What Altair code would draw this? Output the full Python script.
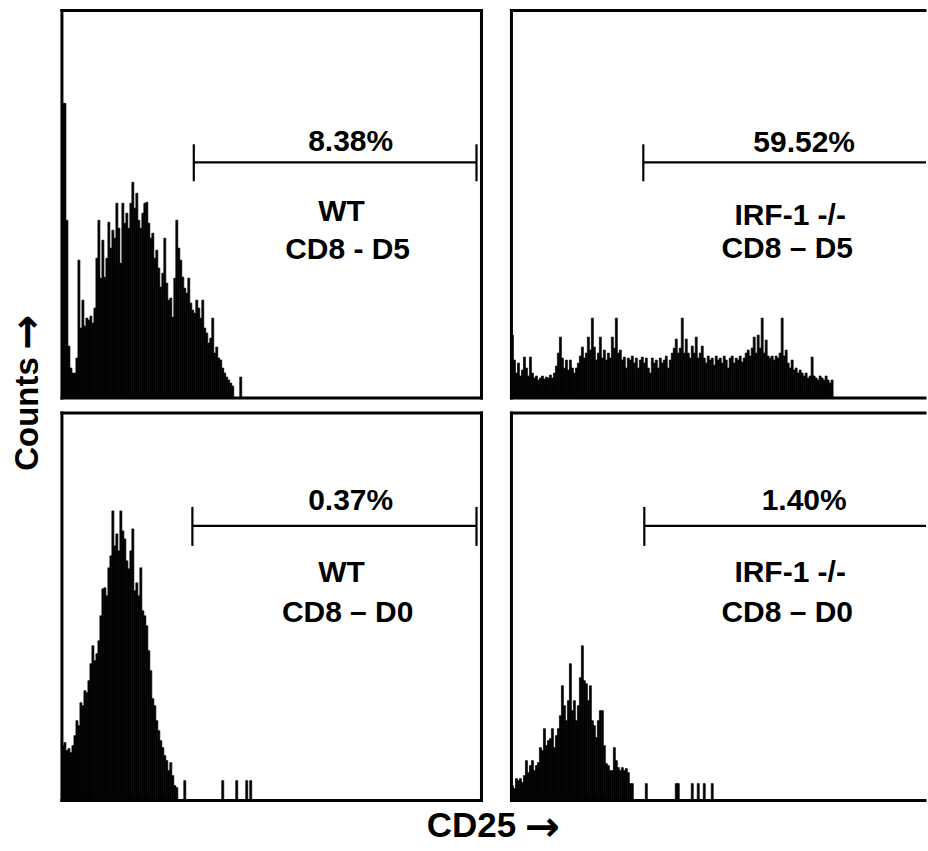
import altair as alt
import pandas as pd

# ---------------- data (heights per 2-px channel bin) -------------
tl_counts = [295, 295, 178, 52, 30, 25, 25, 40, 138, 70, 98, 72, 80, 78, 82, 75, 90, 140, 178, 120,
             158, 121, 140, 176, 150, 168, 160, 195, 170, 135, 195, 175, 185, 170, 195, 216, 190, 205,
             178, 170, 185, 195, 196, 175, 160, 165, 140, 148, 130, 111, 125, 160, 115, 98, 100, 81,
             120, 178, 150, 138, 121, 110, 105, 120, 95, 88, 85, 98, 90, 80, 98, 70, 65, 55, 60, 80,
             45, 51, 40, 38, 30, 25, 21, 18, 15, 12, 0, 0, 0, 21]

tr_counts = [63, 38, 25, 35, 22, 28, 41, 30, 22, 41, 25, 20, 22, 18, 20, 22, 19, 21, 20, 23,
             20, 25, 32, 45, 61, 40, 30, 38, 28, 38, 30, 25, 30, 35, 42, 51, 40, 45, 61, 48,
             80, 51, 38, 45, 61, 40, 48, 38, 45, 40, 61, 50, 80, 45, 48, 38, 41, 30, 40, 38,
             42, 35, 40, 30, 38, 41, 35, 40, 30, 25, 40, 35, 38, 30, 40, 35, 38, 42, 30, 38,
             45, 50, 59, 45, 50, 80, 45, 59, 45, 40, 52, 45, 61, 40, 45, 52, 40, 35, 42, 38,
             40, 33, 42, 38, 40, 35, 42, 38, 30, 40, 42, 35, 40, 38, 42, 36, 40, 45, 48, 42,
             50, 61, 45, 63, 50, 80, 45, 58, 42, 40, 42, 38, 42, 40, 45, 80, 42, 48, 35, 30,
             38, 28, 30, 25, 28, 25, 22, 25, 20, 22, 41, 22, 20, 18, 22, 20, 18, 22, 18, 15, 18]

bl_counts = [55, 58, 50, 52, 48, 55, 65, 80, 75, 98, 95, 110, 108, 120, 137, 155, 140, 147, 160, 185,
             212, 213, 205, 233, 245, 290, 255, 267, 250, 290, 270, 262, 240, 232, 250, 272, 210, 218,
             205, 233, 190, 185, 175, 150, 130, 102, 95, 80, 70, 60, 53, 45, 40, 30, 38, 25, 15, 13,
             0, 0, 0, 20, 0, 0, 0, 0, 0, 0, 0, 0, 0, 0, 0, 0, 0, 0, 0, 0, 0, 0,
             20, 0, 0, 0, 0, 0, 0, 20, 0, 0, 0, 0, 20, 0, 20]

br_counts = [15, 12, 22, 20, 22, 18, 25, 40, 28, 35, 40, 30, 35, 38, 53, 50, 72, 55, 60, 62,
             72, 53, 65, 72, 85, 115, 95, 80, 100, 137, 90, 100, 80, 95, 123, 155, 120, 117, 100, 115,
             80, 75, 63, 80, 90, 90, 55, 37, 35, 30, 30, 53, 40, 33, 30, 33, 30, 32, 28, 17,
             17, 0, 0, 0, 0, 0, 0, 17, 0, 0, 0, 0, 0, 0, 0, 0, 0, 0, 0, 0,
             0, 0, 17, 17, 0, 0, 0, 0, 0, 0, 17, 0, 0, 17, 0, 0, 17, 0, 0, 0, 17]

percent_labels = ["8.38%", "59.52%", "0.37%", "1.40%"]
group_labels = ["WT", "IRF-1 -/-", "WT", "IRF-1 -/-"]
day_labels = ["CD8 - D5", "CD8 \u2013 D5", "CD8 \u2013 D0", "CD8 \u2013 D0"]

gate_lo = [66, 66, 65.3, 66.5]
gate_hi = [207.5, 207.5, 207.5, 207.5]
gate_y = [236, 236, 275, 275]
gate_tick_lo = [217, 217, 255, 255]
gate_tick_hi = [254, 254, 294, 294]

pct_x = [144.5, 146.5, 144.5, 146.5]
pct_y = [256, 255, 300, 300]
grp_x = [140, 139.5, 140, 139.5]
grp_y = [186, 182, 228, 228]
day_x = [143, 138, 143, 138]
day_y = [148, 149, 188, 188]

x_title = "CD25"
y_title = "Counts"
arrow = "\u2192"

FONT = "Liberation Sans"
H = 388
LEFT_W = 420
RIGHT_W = 414


def panel(idx, counts, width, right_side):
    dom = width / 2.0
    xs = alt.Scale(domain=[0, dom], nice=False, zero=False)
    ys = alt.Scale(domain=[0, H], nice=False)
    df = pd.DataFrame({"x0": list(range(len(counts))),
                       "x1": [i + 1 for i in range(len(counts))],
                       "count": counts})
    df = df[df["count"] > 0]
    bars = alt.Chart(df).mark_bar(color="black", stroke="black", strokeWidth=0.7).encode(
        x=alt.X("x0:Q", scale=xs, axis=None),
        x2="x1:Q",
        y=alt.Y("count:Q", scale=ys, axis=None),
        y2=alt.datum(0),
    )
    gdf = pd.DataFrame({"lo": [gate_lo[idx]], "hi": [gate_hi[idx]], "gy": [gate_y[idx]],
                        "t0": [gate_tick_lo[idx]], "t1": [gate_tick_hi[idx]]})
    gate = alt.Chart(gdf).mark_rule(color="black", strokeWidth=2.2).encode(
        x=alt.X("lo:Q", scale=xs, axis=None), x2="hi:Q",
        y=alt.Y("gy:Q", scale=ys, axis=None))
    tick_l = alt.Chart(gdf).mark_rule(color="black", strokeWidth=2.2).encode(
        x=alt.X("lo:Q", scale=xs, axis=None),
        y=alt.Y("t0:Q", scale=ys, axis=None), y2="t1:Q")
    layers = [bars, gate, tick_l]
    if not right_side:
        tick_r = alt.Chart(gdf).mark_rule(color="black", strokeWidth=2.2).encode(
            x=alt.X("hi:Q", scale=xs, axis=None),
            y=alt.Y("t0:Q", scale=ys, axis=None), y2="t1:Q")
        layers.append(tick_r)
    tdf = pd.DataFrame({"tx": [pct_x[idx], grp_x[idx], day_x[idx]],
                        "ty": [pct_y[idx], grp_y[idx], day_y[idx]],
                        "label": [percent_labels[idx], group_labels[idx], day_labels[idx]]})
    texts = alt.Chart(tdf).mark_text(font=FONT, fontSize=30, fontWeight="bold",
                                     color="black", align="center", baseline="middle").encode(
        x=alt.X("tx:Q", scale=xs, axis=None),
        y=alt.Y("ty:Q", scale=ys, axis=None),
        text="label:N")
    layers.append(texts)
    one = pd.DataFrame({"a": [0]})
    fr = dict(color="black", strokeWidth=3, strokeCap="square")
    layers.append(alt.Chart(one).mark_rule(**fr).encode(x=alt.value(0), x2=alt.value(width), y=alt.value(0)))
    layers.append(alt.Chart(one).mark_rule(**fr).encode(x=alt.value(0), x2=alt.value(width), y=alt.value(H)))
    layers.append(alt.Chart(one).mark_rule(**fr).encode(x=alt.value(0), y=alt.value(0), y2=alt.value(H)))
    if not right_side:
        layers.append(alt.Chart(one).mark_rule(**fr).encode(x=alt.value(width), y=alt.value(0), y2=alt.value(H)))
    if idx == 0:
        layers.append(alt.Chart(one).mark_text(text=y_title, font=FONT, fontSize=33, fontWeight="bold",
                                               angle=270, align="center", baseline="middle").encode(
            x=alt.value(-34), y=alt.value(404)))
        layers.append(alt.Chart(one).mark_text(text=arrow, font="DejaVu Sans", fontSize=42, fontWeight="bold",
                                               angle=270, align="center", baseline="middle").encode(
            x=alt.value(-34), y=alt.value(322)))
    if idx == 2:
        layers.append(alt.Chart(one).mark_text(text=x_title, font=FONT, fontSize=35, fontWeight="bold",
                                               align="center", baseline="middle").encode(
            x=alt.value(410), y=alt.value(413)))
        layers.append(alt.Chart(one).mark_text(text=arrow, font="DejaVu Sans", fontSize=42, fontWeight="bold",
                                               align="center", baseline="middle").encode(
            x=alt.value(481), y=alt.value(415)))
    return alt.layer(*layers).properties(width=width, height=H)


tl = panel(0, tl_counts, LEFT_W, False)
tr = panel(1, tr_counts, RIGHT_W, True)
bl = panel(2, bl_counts, LEFT_W, False)
br = panel(3, br_counts, RIGHT_W, True)

chart = alt.concat(tl, tr, bl, br, columns=2, spacing={"row": 15, "column": 30},
                   bounds="flush").properties(
    padding={"left": 7, "top": 7, "right": 0, "bottom": 3},
    background="white",
).configure_view(strokeWidth=0)

chart.save("out.html", embed_options={"renderer": "svg", "actions": False})
